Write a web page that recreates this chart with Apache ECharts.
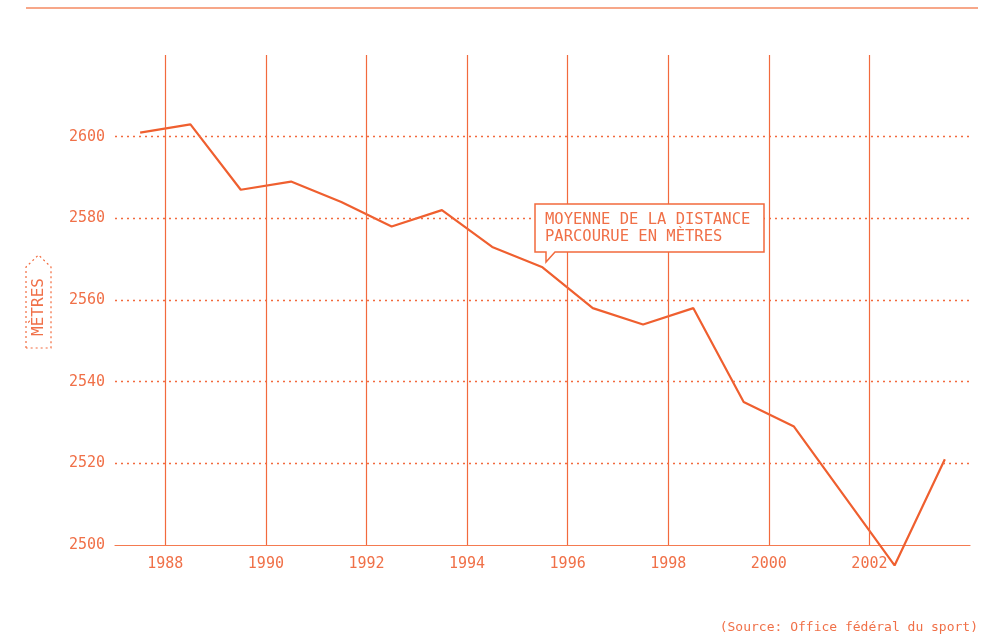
<!DOCTYPE html>
<html>
<head>
<meta charset="utf-8">
<script src="https://cdn.jsdelivr.net/npm/echarts@6/dist/echarts.min.js"></script>
<style>
  html, body { margin: 0; background: #fff; }
  #chart { width: 996px; height: 637px; }
</style>
</head>
<body>
<div id="chart"></div>
<script>
// mid-year points (1987.5 = season 1987/88 etc.)
const years    = [1987.5, 1988.5, 1989.5, 1990.5, 1991.5, 1992.5, 1993.5, 1994.5, 1995.5, 1996.5, 1997.5, 1998.5, 1999.5, 2000.5, 2002.5, 2003.5]
const distance = [2601,   2603,   2587,   2589,   2584,   2578,   2582,   2573,   2568,   2558,   2554,   2558,   2535,   2529,   2495,   2521]
const yearTicks = [1988, 1990, 1992, 1994, 1996, 1998, 2000, 2002]
const metreTicks = [2520, 2540, 2560, 2580, 2600]

const LINE = '#ef5f2f'
const GRID = '#f26a3d'
const TEXT = '#f07048'
const FONT = '"DejaVu Sans Mono", monospace'

const chart = echarts.init(document.getElementById('chart'))

chart.setOption({
  animation: false,
  grid: { left: 115, right: 26, top: 55, bottom: 92 },
  xAxis: {
    type: 'value', min: 1987, max: 2004, interval: 1,
    axisLine: { show: true, lineStyle: { color: '#f47a50', width: 1.2 } },
    axisTick: { show: false },
    splitLine: { show: false },
    axisLabel: {
      margin: 12, color: TEXT, fontFamily: FONT, fontSize: 15,
      formatter: v => yearTicks.includes(v) ? String(v) : ''
    }
  },
  yAxis: {
    type: 'value', min: 2500, max: 2620, interval: 20,
    axisLine: { show: false }, axisTick: { show: false },
    splitLine: { show: false },
    axisLabel: {
      margin: 10, color: TEXT, fontFamily: FONT, fontSize: 15,
      formatter: v => v === 2620 ? '' : String(v)
    }
  },
  series: [{
    type: 'line',
    data: years.map((y, i) => [y, distance[i]]),
    symbol: 'none',
    clip: false,
    lineStyle: { color: LINE, width: 2.2 },
    z: 3,
    markLine: {
      silent: true, symbol: 'none', label: { show: false },
      data: [
        ...yearTicks.map(x => ({ xAxis: x, lineStyle: { color: GRID, width: 1.2, type: 'solid' } })),
        ...metreTicks.map(v => ({ yAxis: v, lineStyle: { color: GRID, width: 1.3, type: [2, 4] } }))
      ]
    }
  }],
  graphic: [
    { type: 'line', shape: { x1: 26, y1: 8, x2: 978, y2: 8 }, style: { stroke: '#f58a62', lineWidth: 1.5 } },
    {
      type: 'polyline', z: 10,
      shape: { points: [[26, 348], [26, 267], [38.5, 255], [51, 267], [51, 348], [26, 348]] },
      style: { stroke: GRID, lineWidth: 1.2, lineDash: [2, 3], fill: null }
    },
    {
      type: 'text', x: 39, y: 307, rotation: Math.PI / 2, z: 10,
      style: { text: 'MÈTRES', fill: TEXT, font: '16px ' + FONT, align: 'center', verticalAlign: 'middle' }
    },
    {
      type: 'polygon', z: 10,
      shape: { points: [[535, 204], [764, 204], [764, 252], [555, 252], [546, 262], [546, 252], [535, 252]] },
      style: { stroke: GRID, lineWidth: 1.5, fill: '#fff' }
    },
    {
      type: 'text', x: 545, y: 211, z: 11,
      style: { text: 'MOYENNE DE LA DISTANCE\nPARCOURUE EN MÈTRES', fill: TEXT, font: '15.5px ' + FONT, lineHeight: 17, verticalAlign: 'top' }
    },
    {
      type: 'text', x: 978, y: 628, z: 10,
      style: { text: '(Source: Office fédéral du sport)', fill: TEXT, font: '13px ' + FONT, align: 'right', verticalAlign: 'middle' }
    }
  ]
})
</script>
</body>
</html>
